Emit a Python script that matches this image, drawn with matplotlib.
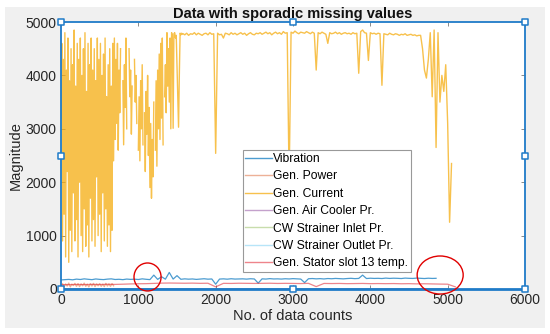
import numpy as np
import matplotlib
matplotlib.use("Agg")
import matplotlib.pyplot as plt
from matplotlib.patches import Ellipse, Rectangle

plt.rcParams['font.family'] = ['Liberation Sans', 'DejaVu Sans']

nan = np.nan
# ---------------- data ----------------
series_names = ["Vibration", "Gen. Power", "Gen. Current", "Gen. Air Cooler Pr.",
                "CW Strainer Inlet Pr.", "CW Strainer Outlet Pr.", "Gen. Stator slot 13 temp."]

# Gen. Current, counts 0..1590 every 10
current_early = [
    3200, 4600, 900, 4300, 1400, 4800, 600, 4100, 2200, 4700,
    500, 3900, 1100, 4500, 700, 4200, 1800, 4850, 900, 3800,
    1300, 4600, 600, 4300, 2000, 4700, 1000, 4000, 700, 4500,
    1500, 4800, 800, 3700, 1200, 4600, 600, 4200, 1700, 4700,
    900, 4100, 1300, 4500, 800, 3900, 2100, 4700, 1000, 4300,
    1400, 4600, 700, 4000, 1800, 4400, 900, 4700, 1500, 3600,
    800, 4200, 1200, 4500, 700, 3800, 1100, 4600, 2400, 4700,
    2800, 4300, 3100, 4600, 2600, 4100, 3300, 4500, nan, nan,
    3900, 2700, 4200, 3400, 4700, 3000, nan, nan, 4500, 3600,
    4100, 2900, 3800, nan, nan, 4300, 3500, 4000, 3100, nan,
    2600, 3600, 2400, 3900, 3000, 4200, 2700, nan, 3300, 2200,
    3700, 2900, 4000, 2500, 3400, 1900, 3100, 1700, 2800, 2100,
    3500, nan, 2600, 3900, 2300, 4100, 3000, 4400, 2800, 4600,
    3200, 4700, 2700, nan, 3600, 4200, 3300, 4800, 3800, 4500,
    3500, 4700, 3000, 4800, 4750, 3010, 4780, 4800, 4700, 4750,
    4200, 3600, 3030, 4000, 4790, 4760, 4790, 4770, 4780, 4770,
]
# Gen. Current, counts 1600..5050 every 25
current_late = [
    4760, 4790, 4750, 4780, 4770, 4800, 4760, 4790, 4770, 4750,
    4780, 4790, 4760, 4800, 4770, 4780, 2540, 4790, 4760, 4770,
    4700, 4790, 4780, 4760, 4800, 4770, 4790, 4760, 4780, 4800,
    4770, 4790, 4750, 4780, 4800, 4770, 4760, 4790, 4780, 4800,
    4770, 4790, 4810, 4780, 4800, 4760, 4790, 4810, 4780, 4800,
    4770, 4820, 4790, 4800, 2000, 4810, 4790, 4830, 4800, 4780,
    4810, 4800, 4790, 4820, 4800, 4780, 4810, 4790, 4100, 4800,
    4780, 4810, 4790, 4770, 4600, 4800, 4780, 4790, 4810, 4780,
    4800, 4770, 4790, 4800, 4780, 4790, 4770, 4800, 4780, 4790,
    4040, 4820, 4850, 4800, 4790, 4280, 4800, 4780, 4790, 4770,
    4790, 4780, 3815, 4780, 4770, 4760, 4790, 4770, 4760, 4780,
    4770, 4750, 4770, 4760, 4780, 4750, 4760, 4770, 4750, 4760,
    4740, 4750, 4750, 4500, 4100, 3950, 4300, 4800, 3600, 4850,
    2650, 4800, 3500, 4000, 3700, 4200, 3100, 1250, 2350,
]

# Vibration, counts 0..4850 every 50
vibration = [
    170, 175, 180, 172, 185, 178, 190, 182, 175, 188,
    180, 176, 185, 190, 178, 182, 175, 186, 180, 184,
    178, 190, 182, 176, 260, 180, 230, 184, 310, 186,
    250, 182, 190, 184, 188, 180, 186, 192, 184, 188,
    90, 186, 190, 184, 192, 186, 188, 190, 185, 192,
    188, 110, 190, 186, 194, 188, 190, 186, 192, 188,
    194, 190, 186, 120, 192, 196, 190, 194, 188, 196,
    192, 198, 194, 190, 196, 200, 194, 198, 260, 196,
    202, 198, 200, 196, 204, 198, 202, 200, 196, 204,
    200, 198, 204, 200, 196, 202, 198, 200,
]

# Gen. Power, counts 0..680 every 20
gen_power = [
    60, 100, 45, 95, 55, 110, 40, 90, 65, 105,
    50, 100, 45, 95, 60, 110, 50, 90, 40, 100,
    55, 105, 45, 95, 60, 100, 50, 90, 45, 105,
    55, 95, 50, 100, 60,
]

# Gen. Stator slot 13 temp., counts 0..5100 every 100
stator_temp = [
    80, 82, 85, 83, 86, 84, 88, 86, 90, 95,
    98, 100, 105, 110, 112, 110, 108, 110, 106, 108,
    40, 106, 104, 108, 106, 104, 106, 108, 104, 106,
    104, 102, 106, 45, 104, 102, 104, 100, 102, 104,
    100, 102, 100, 102, 98, 100, 96, 98, 95, 92,
    90, 40,
]

# small pressures, counts 0..5000 every 500
air_cooler = [6, 5, 6, 5, 6, 5, 6, 5, 6, 5, 6]
cw_inlet = [3, 4, 3, 4, 3, 4, 3, 4, 3, 4, 3]
cw_outlet = [2, 3, 2, 3, 2, 3, 2, 3, 2, 3, 2]

x_ticks = [0, 1000, 2000, 3000, 4000, 5000, 6000]
y_ticks = [0, 1000, 2000, 3000, 4000, 5000]

# ---------------- figure ----------------
fig = plt.figure(figsize=(5.5, 3.34), dpi=100, facecolor='white')
fig.patches.append(Rectangle((5 / 550, 6 / 334), 540 / 550, 321 / 334,
                             transform=fig.transFigure, facecolor='#F0F0F0',
                             edgecolor='none', zorder=-10))
ax = fig.add_axes([61 / 550, 45 / 334, 464 / 550, 267 / 334])
ax.set_facecolor('white')

cur_x = np.concatenate([np.arange(len(current_early)) * 10,
                        1600 + np.arange(len(current_late)) * 25])
cur_y = np.array(current_early + current_late, dtype=float)
vib_x = np.arange(len(vibration)) * 50
pow_x = np.arange(len(gen_power)) * 20
st_x = np.arange(len(stator_temp)) * 100
pr_x = np.arange(len(air_cooler)) * 500

ax.plot(vib_x, vibration, color='#0072BD', lw=0.9, alpha=0.7, label=series_names[0])
ax.plot(pow_x, gen_power, color='#D95319', lw=1.0, alpha=0.45, label=series_names[1])
ax.plot(cur_x, cur_y, color='#F5AC10', lw=1.0, alpha=0.75, label=series_names[2])
ax.plot(pr_x, air_cooler, color='#7E2F8E', lw=0.8, alpha=0.45, label=series_names[3])
ax.plot(pr_x, cw_inlet, color='#77AC30', lw=0.8, alpha=0.4, label=series_names[4])
ax.plot(pr_x, cw_outlet, color='#4DBEEE', lw=0.8, alpha=0.4, label=series_names[5])
ax.plot(st_x, stator_temp, color='#E0202C', lw=0.9, alpha=0.55, label=series_names[6])

ax.set_xlim(0, 6000)
ax.set_ylim(0, 5000)
ax.set_xticks(x_ticks)
ax.set_yticks(y_ticks)
ax.tick_params(direction='in', length=3, width=0.6, color='#777777',
               labelsize=10, labelcolor='#262626', top=True, right=True, pad=3)
for s in ax.spines.values():
    s.set_color('#1F7BC8')
    s.set_linewidth(1.3)
ax.spines['bottom'].set_linewidth(2.0)

ax.set_title("Data with sporadic missing values", fontsize=10.5, fontweight='bold',
             color='#111111', pad=3)
ax.set_xlabel("No. of data counts", fontsize=10.5, color='#262626', labelpad=1)
ax.set_ylabel("Magnitude", fontsize=10.5, color='#262626', labelpad=2)

# selection handles
hx = [0, 0.5, 1, 0, 1, 0, 0.5, 1]
hy = [0, 0, 0, 0.5, 0.5, 1, 1, 1]
ax.scatter(hx, hy, marker='s', s=22, facecolor='white', edgecolor='#1F7BC8',
           linewidth=1.1, transform=ax.transAxes, clip_on=False, zorder=10)

# red circle annotations
ax.add_patch(Ellipse((1119, 225), 350, 524, fill=False, edgecolor='#E00000',
                     lw=1.0, clip_on=False, zorder=9))
ax.add_patch(Ellipse((4903, 262), 595, 712, fill=False, edgecolor='#E00000',
                     lw=1.0, clip_on=False, zorder=9))

leg = ax.legend(loc='lower left', bbox_to_anchor=(0.392, 0.064), fontsize=8.7,
                frameon=True, fancybox=False, edgecolor='#999999', framealpha=1,
                handlelength=2.2, handletextpad=0.1, borderpad=0.2,
                labelspacing=0.45, borderaxespad=0)
leg.get_frame().set_linewidth(0.8)
leg.set_zorder(8)
for h in leg.get_lines():
    h.set_linewidth(1.0)

fig.savefig("out.png", dpi=100, facecolor=fig.get_facecolor())
